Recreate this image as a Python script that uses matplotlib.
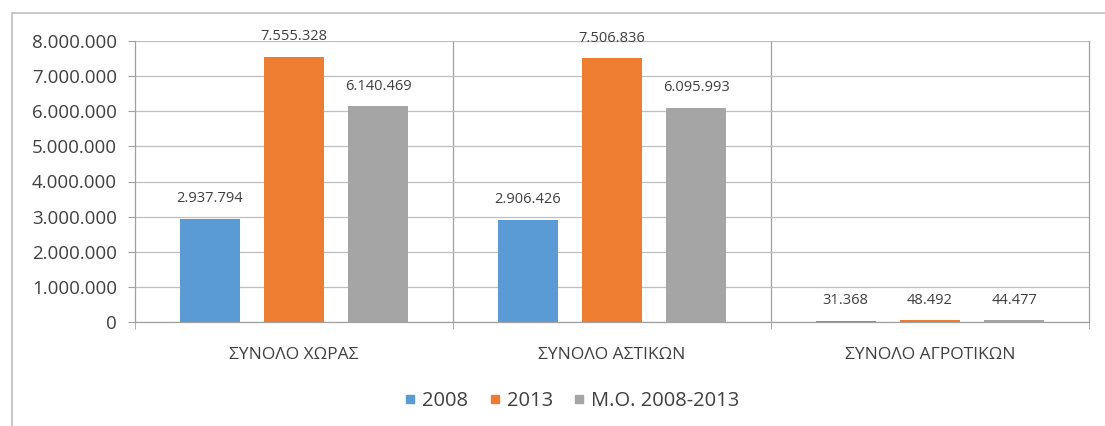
import numpy as np
import matplotlib.pyplot as plt
from matplotlib.lines import Line2D
from matplotlib.ticker import FuncFormatter

plt.rcParams['font.family'] = ['Open Sans', 'DejaVu Sans']

categories = ["ΣΥΝΟΛΟ ΧΩΡΑΣ", "ΣΥΝΟΛΟ ΑΣΤΙΚΩΝ", "ΣΥΝΟΛΟ ΑΓΡΟΤΙΚΩΝ"]
series_names = ["2008", "2013", "Μ.Ο. 2008-2013"]
v2008 = [2937794, 2906426, 31368]
v2013 = [7555328, 7506836, 48492]
vavg = [6140469, 6095993, 44477]
colors = ["#5B9BD5", "#ED7D31", "#A5A5A5"]


def dots(v):
    return f"{int(round(v)):,}".replace(",", ".")


fig = plt.figure(figsize=(11.05, 4.26), dpi=100)
ax = fig.add_axes([135 / 1105, 1 - 322 / 426, (1089 - 135) / 1105, (322 - 41) / 426])

x = np.arange(len(categories))
width = 0.19
step = 0.265
for i, (vals, name, c) in enumerate(zip([v2008, v2013, vavg], series_names, colors)):
    xs = x + (i - 1) * step
    ax.bar(xs, vals, width, color=c, label=name, zorder=3)
    for xi, v in zip(xs, vals):
        ax.annotate(dots(v), (xi, v), xytext=(0, 14.5), textcoords="offset points",
                    ha="center", va="center", fontsize=10.5, color="#404040")

ax.set_xlim(-0.5, 2.5)
ax.set_ylim(0, 8000000)
ax.set_yticks(np.arange(0, 8000001, 1000000))
ax.yaxis.set_major_formatter(FuncFormatter(lambda v, p: dots(v)))
ax.grid(axis="y", color="#BFBFBF", linewidth=0.9, zorder=0)
for b in [0.5, 1.5]:
    ax.axvline(b, color="#A0A0A0", linewidth=0.9, zorder=1)

ax.set_xticks(x)
ax.set_xticklabels(categories, fontsize=12.5, color="#404040")
ax.tick_params(axis="x", length=0, pad=18)
ax.set_xticks([-0.5, 0.5, 1.5, 2.5], minor=True)
ax.tick_params(axis="x", which="minor", length=5, color="#A0A0A0")
ax.tick_params(axis="y", length=5, color="#A0A0A0", labelsize=13.5, labelcolor="#404040", pad=8)

for s in ["top"]:
    ax.spines[s].set_visible(False)
for s in ["left", "right", "bottom"]:
    ax.spines[s].set_color("#A0A0A0")
    ax.spines[s].set_linewidth(0.9)

handles = [Line2D([], [], marker="s", linestyle="", color=c, markersize=6) for c in colors]
fig.legend(handles, series_names, loc="center", bbox_to_anchor=(572 / 1105, 1 - 401 / 426),
           ncol=3, frameon=False, fontsize=14.5, handlelength=0.6, handletextpad=0.3,
           columnspacing=1.0, labelcolor="#404040")

# outer chart frame (left and top edges visible)
fig.add_artist(Line2D([12 / 1105, 12 / 1105], [0, 1 - 13 / 426], transform=fig.transFigure,
                      color="#BFBFBF", linewidth=1.2))
fig.add_artist(Line2D([12 / 1105, 1], [1 - 13 / 426, 1 - 13 / 426], transform=fig.transFigure,
                      color="#BFBFBF", linewidth=1.2))

fig.savefig("out.png", dpi=100)
